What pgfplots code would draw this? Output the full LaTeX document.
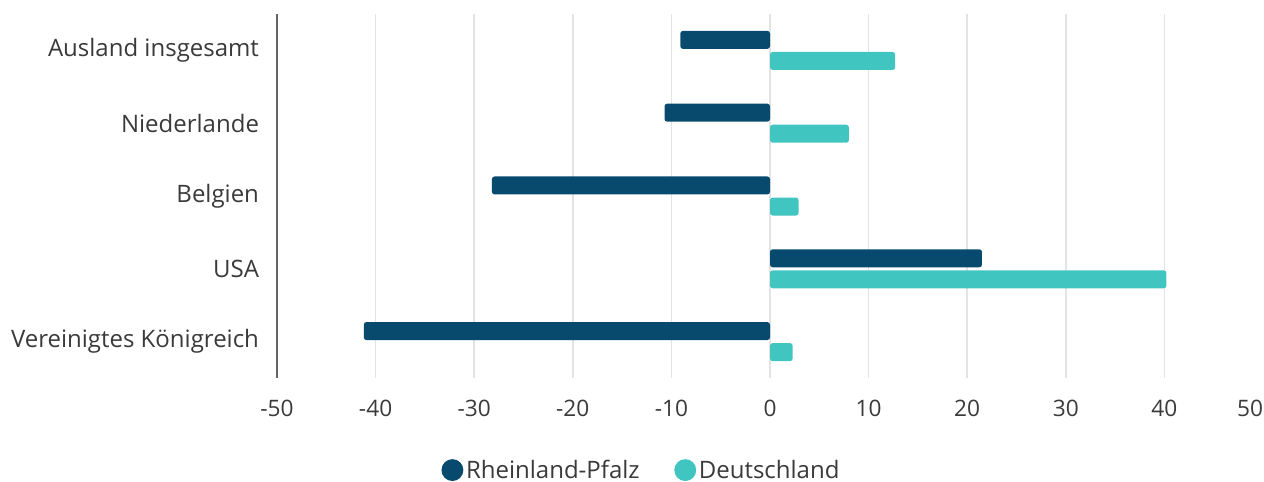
\documentclass[border=0pt]{standalone}
\usepackage{pgfplots}
\pgfplotsset{compat=1.18}
\usepackage{fontspec}
\setmainfont{Open Sans}
\definecolor{rp}{HTML}{074A6D}
\definecolor{de}{HTML}{40C5C0}
\definecolor{txt}{HTML}{3A3A3A}
\definecolor{gridc}{HTML}{E3E3E3}
\begin{document}
\begin{tikzpicture}
\useasboundingbox (0,0) rectangle (948pt,361.5pt);
\begin{axis}[
  at={(207.75pt,78pt)}, anchor=south west,
  scale only axis, width=739.5pt, height=273pt,
  xbar, bar width=13.5pt,
  xmin=-50, xmax=50, ymin=-0.5, ymax=4.5,
  xtick={-50,-40,...,40},
  extra x ticks={50},
  extra x tick labels={\makebox[0pt][r]{50}},
  extra x tick style={grid=none},
  ytick={0,1,2,3,4},
  yticklabels={Vereinigtes Königreich,USA,Belgien,Niederlande,Ausland insgesamt},
  axis x line*=bottom,
  x axis line style={draw=none},
  axis y line*=left,
  y axis line style={draw=black!60, line width=1.1pt, -},
  major tick length=0pt,
  xmajorgrids=true,
  grid style={gridc, line width=1.1pt},
  xticklabel style={font=\fontsize{17}{20}\selectfont, text=txt, yshift=-13pt},
  yticklabel style={font=\fontsize{18}{21}\selectfont, text=txt, xshift=-10pt},
  /pgf/number format/assume math mode=true,
  legend style={at={(0.37,-0.253)}, anchor=center, draw=none, fill=none,
    legend columns=2, font=\fontsize{18}{21}\selectfont, text=txt,
    /tikz/every even column/.append style={column sep=24pt}},
  legend image code/.code={\fill[#1] (-0.25cm,0cm) circle (8.2pt);},
  clip=false,
]
\addplot[draw=none, fill=rp, bar shift=7.9pt, rounded corners=2pt] coordinates {(-9.1,4) (-10.7,3) (-28.2,2) (21.5,1) (-41.2,0)};
\addplot[draw=none, fill=de, bar shift=-7.9pt, rounded corners=2pt] coordinates {(12.7,4) (8.0,3) (2.9,2) (40.2,1) (2.3,0)};
\legend{Rheinland-Pfalz, Deutschland}
\end{axis}
\end{tikzpicture}
\end{document}
